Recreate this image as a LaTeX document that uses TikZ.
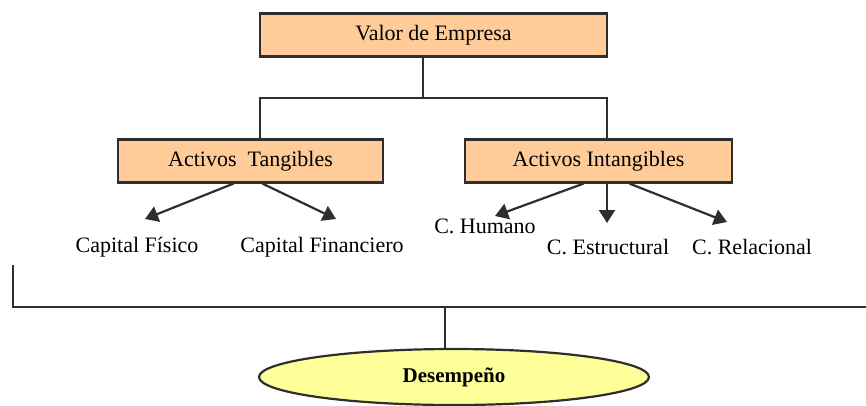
\documentclass[tikz,border=0pt]{standalone}
\usepackage{fontspec}
\setmainfont{Liberation Serif}
\usetikzlibrary{arrows.meta,shapes.geometric}
\definecolor{boxfill}{HTML}{FFCC99}
\definecolor{ovalfill}{HTML}{FFFF99}
\definecolor{ink}{HTML}{2E2E2E}
\begin{document}
\begin{tikzpicture}[x=1pt,y=-1pt,
  every node/.style={font=\fontsize{22}{25}\selectfont, text=black},
  valuebox/.style={draw=ink, line width=2.2pt, fill=boxfill, minimum height=43pt, inner sep=0pt},
  link/.style={draw=ink, line width=2.2pt},
  branch/.style={draw=ink, line width=2.2pt, -{Triangle[length=13pt,width=16pt]}},
  leaf/.style={inner sep=0pt, anchor=center},
  oval/.style={ellipse, draw=ink, line width=2.2pt, fill=ovalfill, minimum width=390pt, minimum height=56pt, inner sep=0pt, font=\fontsize{21}{24}\selectfont\bfseries}]
\useasboundingbox (0,0) rectangle (866,405);

% boxes
\node[valuebox, minimum width=347pt] (top) at (433.5,35) {Valor de Empresa};
\node[valuebox, minimum width=265pt] (tang) at (250.5,161) {Activos\ \ Tangibles};
\node[valuebox, minimum width=267pt] (inta) at (598.5,161) {Activos Intangibles};

% tree joints
\coordinate (j) at (423,98);
\coordinate (tl) at (260,98);
\coordinate (tr) at (607,98);
\draw[link] (top.south -| j) -- (j);
\draw[link] (tang.north -| tl) -- (tl) -- (tr) -- (inta.north -| tr);

% leaf labels
\node[leaf] (fis) at (137,247) {Capital Físico};
\node[leaf] (fin) at (322,247) {Capital Financiero};
\node[leaf] (hum) at (485,226) {C. Humano};
\node[leaf] (est) at (608,247) {C. Estructural};
\node[leaf] (rel) at (752,247) {C. Relacional};

% arrow tips
\coordinate (afis) at (145,219);
\coordinate (afin) at (336,219);
\coordinate (ahum) at (495,216);
\coordinate (aest) at (607,223);
\coordinate (arel) at (727,222);

\draw[branch] ([xshift=-17pt]tang.south) -- (afis);
\draw[branch] ([xshift=12pt]tang.south) -- (afin);
\draw[branch] ([xshift=-15pt]inta.south) -- (ahum);
\draw[branch] ([xshift=8.5pt]inta.south) -- (aest);
\draw[branch] ([xshift=31pt]inta.south) -- (arel);

% bottom bracket and result
\coordinate (bl) at (13,265);
\coordinate (bc) at (13,307);
\coordinate (br) at (866,307);
\coordinate (bm) at (445,307);
\draw[link] (bl) -- (bc) -- (br);
\node[oval] (des) at (454,377) {Desempeño};
\draw[link] (bm) -- (des.north -| bm);
\end{tikzpicture}
\end{document}
